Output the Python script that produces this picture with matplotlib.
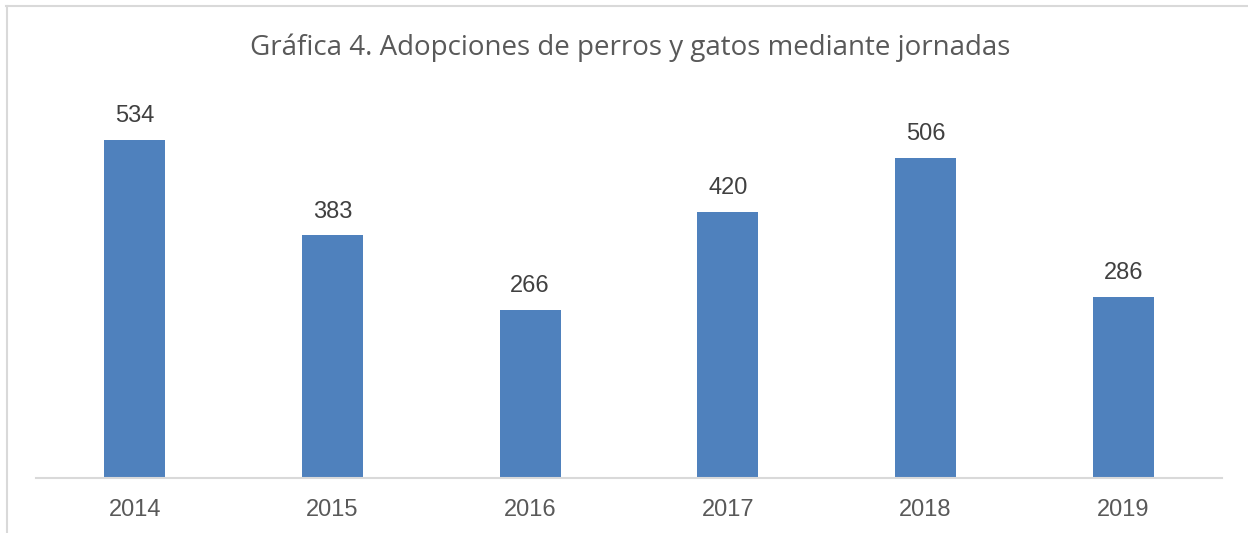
import matplotlib.pyplot as plt
from matplotlib.lines import Line2D

years = ["2014", "2015", "2016", "2017", "2018", "2019"]
adopciones = [534, 383, 266, 420, 506, 286]

W, H = 1248, 533
fig = plt.figure(figsize=(W / 100, H / 100), dpi=100)
ax = fig.add_axes([36 / W, (H - 478) / H, (1222 - 36) / W, (478 - 98) / H])

x = range(len(years))
bars = ax.bar(x, adopciones, width=0.31, color="#4f81bd")
ax.set_xlim(-0.5, len(years) - 0.5)
ax.set_ylim(0, 600)

for b, v in zip(bars, adopciones):
    ax.annotate(str(v), (b.get_x() + b.get_width() / 2, v), xytext=(0, 9),
                textcoords="offset points", ha="center", va="bottom",
                fontsize=17, color="#404040", family="Liberation Sans")

ax.set_xticks(list(x))
ax.set_xticklabels(years, fontsize=17, color="#595959", family="Liberation Sans")
ax.tick_params(axis="x", length=0, pad=15)
ax.set_yticks([])
for s in ["top", "right", "left"]:
    ax.spines[s].set_visible(False)
ax.spines["bottom"].set_color("#d9d9d9")
ax.spines["bottom"].set_linewidth(1.5)

fig.text(630 / W, 1 - 48 / H, "Gráfica 4. Adopciones de perros y gatos mediante jornadas",
         ha="center", va="center", fontsize=20, color="#595959", family="Open Sans")

# chart border (cropped at right and bottom)
fig.add_artist(Line2D([6 / W, 1], [1 - 6 / H, 1 - 6 / H], color="#d9d9d9", lw=1.5))
fig.add_artist(Line2D([7 / W, 7 / W], [0, 1 - 6 / H], color="#d9d9d9", lw=1.5))

fig.savefig("out.png", dpi=100)
